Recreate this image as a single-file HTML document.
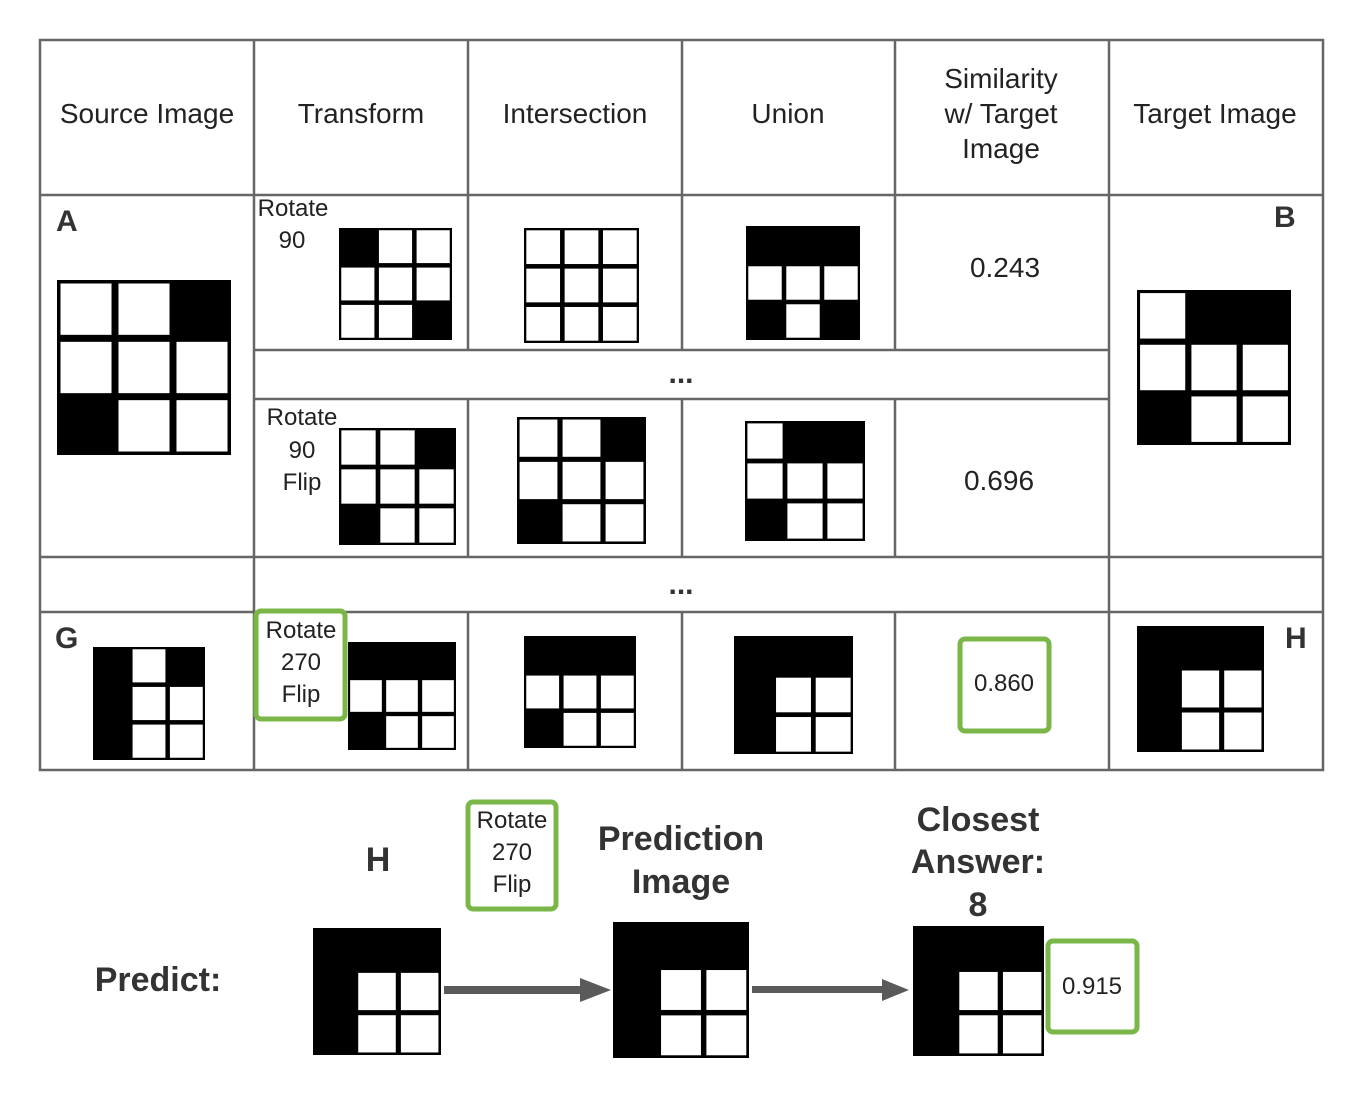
<!DOCTYPE html>
<html><head><meta charset="utf-8"><style>
html,body{margin:0;padding:0;background:#fff}
svg{display:block}
text{font-family:"Liberation Sans",sans-serif;fill:#222}
.b{font-weight:bold;fill:#333}
</style></head><body>
<svg width="1367" height="1101" viewBox="0 0 1367 1101" xmlns="http://www.w3.org/2000/svg">
<rect width="1367" height="1101" fill="#fff"/>
<g stroke="#666" stroke-width="2.5" fill="none">
<rect x="40" y="40" width="1283" height="730"/>
<line x1="40" y1="195" x2="1323" y2="195"/>
<line x1="254" y1="350" x2="1109" y2="350"/>
<line x1="254" y1="399" x2="1109" y2="399"/>
<line x1="40" y1="557" x2="1323" y2="557"/>
<line x1="40" y1="612" x2="1323" y2="612"/>
<line x1="254" y1="40" x2="254" y2="770"/>
<line x1="1109" y1="40" x2="1109" y2="770"/>
<line x1="468" y1="40" x2="468" y2="350"/><line x1="682" y1="40" x2="682" y2="350"/><line x1="895" y1="40" x2="895" y2="350"/>
<line x1="468" y1="399" x2="468" y2="557"/><line x1="682" y1="399" x2="682" y2="557"/><line x1="895" y1="399" x2="895" y2="557"/>
<line x1="468" y1="612" x2="468" y2="770"/><line x1="682" y1="612" x2="682" y2="770"/><line x1="895" y1="612" x2="895" y2="770"/>
</g>
<g font-size="28" text-anchor="middle">
<text x="147" y="123">Source Image</text>
<text x="361" y="123">Transform</text>
<text x="575" y="123">Intersection</text>
<text x="788" y="123">Union</text>
<text x="1001" y="88">Similarity</text>
<text x="1001" y="123">w/ Target</text>
<text x="1001" y="158">Image</text>
<text x="1215" y="123">Target Image</text>
</g>
<g fill="#fff">
<svg x="57" y="280" width="174" height="175" viewBox="0 0 30 30" preserveAspectRatio="none"><rect width="30" height="30" fill="#000"/><rect x=".6" y=".6" width="8.8" height="8.8"/><rect x="10.6" y=".6" width="8.8" height="8.8"/><rect x=".6" y="10.6" width="8.8" height="8.8"/><rect x="10.6" y="10.6" width="8.8" height="8.8"/><rect x="20.6" y="10.6" width="8.8" height="8.8"/><rect x="10.6" y="20.6" width="8.8" height="8.8"/><rect x="20.6" y="20.6" width="8.8" height="8.8"/></svg>
<svg x="339" y="228" width="113" height="112" viewBox="0 0 30 30" preserveAspectRatio="none"><rect width="30" height="30" fill="#000"/><rect x="10.6" y=".6" width="8.8" height="8.8"/><rect x="20.6" y=".6" width="8.8" height="8.8"/><rect x=".6" y="10.6" width="8.8" height="8.8"/><rect x="10.6" y="10.6" width="8.8" height="8.8"/><rect x="20.6" y="10.6" width="8.8" height="8.8"/><rect x=".6" y="20.6" width="8.8" height="8.8"/><rect x="10.6" y="20.6" width="8.8" height="8.8"/></svg>
<svg x="524" y="228" width="115" height="115" viewBox="0 0 30 30" preserveAspectRatio="none"><rect width="30" height="30" fill="#000"/><rect x=".6" y=".6" width="8.8" height="8.8"/><rect x="10.6" y=".6" width="8.8" height="8.8"/><rect x="20.6" y=".6" width="8.8" height="8.8"/><rect x=".6" y="10.6" width="8.8" height="8.8"/><rect x="10.6" y="10.6" width="8.8" height="8.8"/><rect x="20.6" y="10.6" width="8.8" height="8.8"/><rect x=".6" y="20.6" width="8.8" height="8.8"/><rect x="10.6" y="20.6" width="8.8" height="8.8"/><rect x="20.6" y="20.6" width="8.8" height="8.8"/></svg>
<svg x="746" y="226" width="114" height="114" viewBox="0 0 30 30" preserveAspectRatio="none"><rect width="30" height="30" fill="#000"/><rect x=".6" y="10.6" width="8.8" height="8.8"/><rect x="10.6" y="10.6" width="8.8" height="8.8"/><rect x="20.6" y="10.6" width="8.8" height="8.8"/><rect x="10.6" y="20.6" width="8.8" height="8.8"/></svg>
<svg x="339" y="428" width="117" height="117" viewBox="0 0 30 30" preserveAspectRatio="none"><rect width="30" height="30" fill="#000"/><rect x=".6" y=".6" width="8.8" height="8.8"/><rect x="10.6" y=".6" width="8.8" height="8.8"/><rect x=".6" y="10.6" width="8.8" height="8.8"/><rect x="10.6" y="10.6" width="8.8" height="8.8"/><rect x="20.6" y="10.6" width="8.8" height="8.8"/><rect x="10.6" y="20.6" width="8.8" height="8.8"/><rect x="20.6" y="20.6" width="8.8" height="8.8"/></svg>
<svg x="517" y="417" width="129" height="127" viewBox="0 0 30 30" preserveAspectRatio="none"><rect width="30" height="30" fill="#000"/><rect x=".6" y=".6" width="8.8" height="8.8"/><rect x="10.6" y=".6" width="8.8" height="8.8"/><rect x=".6" y="10.6" width="8.8" height="8.8"/><rect x="10.6" y="10.6" width="8.8" height="8.8"/><rect x="20.6" y="10.6" width="8.8" height="8.8"/><rect x="10.6" y="20.6" width="8.8" height="8.8"/><rect x="20.6" y="20.6" width="8.8" height="8.8"/></svg>
<svg x="745" y="421" width="120" height="120" viewBox="0 0 30 30" preserveAspectRatio="none"><rect width="30" height="30" fill="#000"/><rect x=".6" y=".6" width="8.8" height="8.8"/><rect x=".6" y="10.6" width="8.8" height="8.8"/><rect x="10.6" y="10.6" width="8.8" height="8.8"/><rect x="20.6" y="10.6" width="8.8" height="8.8"/><rect x="10.6" y="20.6" width="8.8" height="8.8"/><rect x="20.6" y="20.6" width="8.8" height="8.8"/></svg>
<svg x="1137" y="290" width="154" height="155" viewBox="0 0 30 30" preserveAspectRatio="none"><rect width="30" height="30" fill="#000"/><rect x=".6" y=".6" width="8.8" height="8.8"/><rect x=".6" y="10.6" width="8.8" height="8.8"/><rect x="10.6" y="10.6" width="8.8" height="8.8"/><rect x="20.6" y="10.6" width="8.8" height="8.8"/><rect x="10.6" y="20.6" width="8.8" height="8.8"/><rect x="20.6" y="20.6" width="8.8" height="8.8"/></svg>
<svg x="93" y="647" width="112" height="113" viewBox="0 0 30 30" preserveAspectRatio="none"><rect width="30" height="30" fill="#000"/><rect x="10.6" y=".6" width="8.8" height="8.8"/><rect x="10.6" y="10.6" width="8.8" height="8.8"/><rect x="20.6" y="10.6" width="8.8" height="8.8"/><rect x="10.6" y="20.6" width="8.8" height="8.8"/><rect x="20.6" y="20.6" width="8.8" height="8.8"/></svg>
<svg x="348" y="642" width="108" height="108" viewBox="0 0 30 30" preserveAspectRatio="none"><rect width="30" height="30" fill="#000"/><rect x=".6" y="10.6" width="8.8" height="8.8"/><rect x="10.6" y="10.6" width="8.8" height="8.8"/><rect x="20.6" y="10.6" width="8.8" height="8.8"/><rect x="10.6" y="20.6" width="8.8" height="8.8"/><rect x="20.6" y="20.6" width="8.8" height="8.8"/></svg>
<svg x="524" y="636" width="112" height="112" viewBox="0 0 30 30" preserveAspectRatio="none"><rect width="30" height="30" fill="#000"/><rect x=".6" y="10.6" width="8.8" height="8.8"/><rect x="10.6" y="10.6" width="8.8" height="8.8"/><rect x="20.6" y="10.6" width="8.8" height="8.8"/><rect x="10.6" y="20.6" width="8.8" height="8.8"/><rect x="20.6" y="20.6" width="8.8" height="8.8"/></svg>
<svg x="734" y="636" width="119" height="118" viewBox="0 0 30 30" preserveAspectRatio="none"><rect width="30" height="30" fill="#000"/><rect x="10.6" y="10.6" width="8.8" height="8.8"/><rect x="20.6" y="10.6" width="8.8" height="8.8"/><rect x="10.6" y="20.6" width="8.8" height="8.8"/><rect x="20.6" y="20.6" width="8.8" height="8.8"/></svg>
<svg x="1137" y="626" width="127" height="126" viewBox="0 0 30 30" preserveAspectRatio="none"><rect width="30" height="30" fill="#000"/><rect x="10.6" y="10.6" width="8.8" height="8.8"/><rect x="20.6" y="10.6" width="8.8" height="8.8"/><rect x="10.6" y="20.6" width="8.8" height="8.8"/><rect x="20.6" y="20.6" width="8.8" height="8.8"/></svg>
<svg x="313" y="928" width="128" height="127" viewBox="0 0 30 30" preserveAspectRatio="none"><rect width="30" height="30" fill="#000"/><rect x="10.6" y="10.6" width="8.8" height="8.8"/><rect x="20.6" y="10.6" width="8.8" height="8.8"/><rect x="10.6" y="20.6" width="8.8" height="8.8"/><rect x="20.6" y="20.6" width="8.8" height="8.8"/></svg>
<svg x="613" y="922" width="136" height="136" viewBox="0 0 30 30" preserveAspectRatio="none"><rect width="30" height="30" fill="#000"/><rect x="10.6" y="10.6" width="8.8" height="8.8"/><rect x="20.6" y="10.6" width="8.8" height="8.8"/><rect x="10.6" y="20.6" width="8.8" height="8.8"/><rect x="20.6" y="20.6" width="8.8" height="8.8"/></svg>
<svg x="913" y="926" width="131" height="130" viewBox="0 0 30 30" preserveAspectRatio="none"><rect width="30" height="30" fill="#000"/><rect x="10.6" y="10.6" width="8.8" height="8.8"/><rect x="20.6" y="10.6" width="8.8" height="8.8"/><rect x="10.6" y="20.6" width="8.8" height="8.8"/><rect x="20.6" y="20.6" width="8.8" height="8.8"/></svg>
</g>
<g font-size="24" text-anchor="middle">
<text x="293" y="216">Rotate</text><text x="292" y="248">90</text>
<text x="302" y="425">Rotate</text><text x="302" y="458">90</text><text x="302" y="490">Flip</text>
<text x="301" y="638">Rotate</text><text x="301" y="670">270</text><text x="301" y="702">Flip</text>
<text x="512" y="828">Rotate</text><text x="512" y="860">270</text><text x="512" y="892">Flip</text>
</g>
<g font-size="28" text-anchor="middle">
<text x="1005" y="277">0.243</text>
<text x="999" y="490">0.696</text>
</g>
<g font-size="24" text-anchor="middle">
<text x="1004" y="691">0.860</text>
<text x="1092" y="994">0.915</text>
</g>
<g font-size="30">
<text x="56" y="231" class="b">A</text>
<text x="1274" y="227" class="b">B</text>
<text x="55" y="648" class="b">G</text>
<text x="1285" y="648" class="b">H</text>
</g>
<g font-size="30" text-anchor="middle"><text x="681" y="383" class="b">...</text><text x="681" y="594" class="b">...</text></g>
<g font-size="34" text-anchor="middle">
<text x="378" y="871" class="b">H</text>
<text x="681" y="850" class="b">Prediction</text>
<text x="681" y="893" class="b">Image</text>
<text x="978" y="831" class="b">Closest</text>
<text x="978" y="873" class="b">Answer:</text>
<text x="978" y="916" class="b">8</text>
<text x="158" y="991" class="b">Predict:</text>
</g>
<g stroke="#7ab648" stroke-width="5" fill="none">
<rect x="256" y="611" width="89" height="108" rx="5"/>
<rect x="960" y="639" width="89" height="92" rx="5"/>
<rect x="468" y="802" width="88" height="107" rx="5"/>
<rect x="1048" y="941" width="89" height="91" rx="5"/>
</g>
<g fill="#5a5a5a">
<rect x="444" y="986" width="138" height="8"/>
<polygon points="580,978 611,990 580,1002"/>
<rect x="752" y="986" width="132" height="7"/>
<polygon points="882,979 909,990 882,1001"/>
</g>
</svg>
</body></html>
